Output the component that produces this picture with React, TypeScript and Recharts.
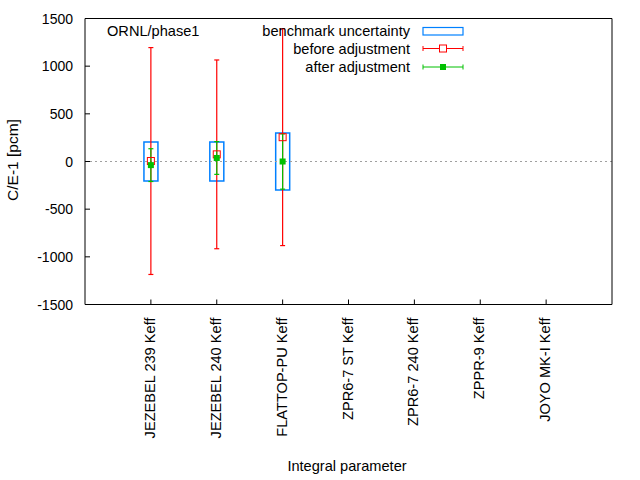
import {
  Bar,
  ComposedChart,
  ErrorBar,
  ReferenceLine,
  Scatter,
  XAxis,
  YAxis,
} from 'recharts';

const categories = [
  'JEZEBEL 239 Keff',
  'JEZEBEL 240 Keff',
  'FLATTOP-PU Keff',
  'ZPR6-7 ST Keff',
  'ZPR6-7 240 Keff',
  'ZPPR-9 Keff',
  'JOYO MK-I Keff',
];
const benchmarkUnc: (number | null)[] = [205, 205, 300, null, null, null, null];
const before: (number | null)[] = [5, 75, 255, null, null, null, null];
const beforeErr: (number | null)[] = [1190, 990, 1137, null, null, null, null];
const after: (number | null)[] = [-38, 37, 0, null, null, null, null];
const afterErr: (number | null)[] = [172, 172, 290, null, null, null, null];
const yTicks = [-1500, -1000, -500, 0, 500, 1000, 1500];

const RED = '#ff0000';
const GREEN = '#00c000';
const BLUE = '#0080ff';
const FONT = '"Liberation Sans", Arial, sans-serif';
const FS = 14.6;

const rows = categories.map((name, i) => ({
  x: i + 1,
  name,
  bench: benchmarkUnc[i] == null ? null : [-benchmarkUnc[i]!, benchmarkUnc[i]!],
  before: before[i],
  beforeErr: beforeErr[i],
  after: after[i],
  afterErr: afterErr[i],
}));
const beforeRows = rows.filter((r) => r.before != null);
const afterRows = rows.filter((r) => r.after != null);

const LeftTick = (props: any) => {
  const { x, y, payload } = props;
  return (
    <g>
      <line x1={x} y1={y} x2={x + 5} y2={y} stroke="#000" />
      <text x={x - 12} y={y + 5} textAnchor="end" fontSize={14} fontFamily={FONT} fill="#000">
        {payload.value}
      </text>
    </g>
  );
};

const RightTick = (props: any) => {
  const { x, y } = props;
  return <line x1={x} y1={y} x2={x - 5} y2={y} stroke="#000" />;
};

const BottomTick = (props: any) => {
  const { x, y, payload } = props;
  const label = categories[payload.value - 1] ?? '';
  return (
    <g>
      <line x1={x} y1={y} x2={x} y2={y - 5} stroke="#000" />
      <text
        x={x + 4}
        y={y + 13}
        transform={`rotate(-90 ${x + 4} ${y + 13})`}
        textAnchor="end"
        fontSize={FS}
        fontFamily={FONT}
        fill="#000"
      >
        {label}
      </text>
    </g>
  );
};

const OpenSquare = (props: any) => {
  const { cx, cy } = props;
  return <rect x={cx - 3.5} y={cy - 3.5} width={7} height={7} fill="none" stroke={RED} />;
};

const FilledSquare = (props: any) => {
  const { cx, cy } = props;
  return <rect x={cx - 3} y={cy - 3} width={6} height={6} fill={GREEN} />;
};

export default function App() {
  return (
    <div style={{ position: 'absolute', left: 0, top: 0, width: 640, height: 480, background: '#fff' }}>
      <ComposedChart
        width={640}
        height={480}
        data={rows}
        margin={{ top: 0, right: 0, bottom: 0, left: 0 }}
      >
        <XAxis
          xAxisId="top"
          orientation="top"
          type="number"
          dataKey="x"
          domain={[0, 8]}
          height={18.5}
          tick={false}
          tickLine={false}
          stroke="#000"
        />
        <XAxis
          type="number"
          dataKey="x"
          domain={[0, 8]}
          ticks={[1, 2, 3, 4, 5, 6, 7]}
          height={175.5}
          tickSize={0}
          tickMargin={0}
          tickLine={false}
          tick={<BottomTick />}
          interval={0}
          stroke="#000"
        />
        <YAxis
          type="number"
          domain={[-1500, 1500]}
          ticks={yTicks}
          width={85}
          tickSize={0}
          tickMargin={0}
          tickLine={false}
          tick={<LeftTick />}
          interval={0}
          stroke="#000"
        />
        <YAxis
          yAxisId="right"
          orientation="right"
          type="number"
          domain={[-1500, 1500]}
          ticks={yTicks}
          width={28}
          tickSize={0}
          tickMargin={0}
          tickLine={false}
          tick={<RightTick />}
          interval={0}
          stroke="#000"
        />
        <ReferenceLine y={0} stroke="#a0a0a0" strokeDasharray="2 3" />
        <Bar
          dataKey="bench"
          barSize={14}
          fill="none"
          stroke={BLUE}
          strokeWidth={1.5}
          isAnimationActive={false}
        />
        <Scatter data={beforeRows} dataKey="before" shape={<OpenSquare />} isAnimationActive={false}>
          <ErrorBar dataKey="beforeErr" direction="y" width={2.5} stroke={RED} strokeWidth={1.2} />
        </Scatter>
        <Scatter data={afterRows} dataKey="after" shape={<FilledSquare />} isAnimationActive={false}>
          <ErrorBar dataKey="afterErr" direction="y" width={2.5} stroke={GREEN} strokeWidth={1.2} />
        </Scatter>
      </ComposedChart>
      <svg
        width={640}
        height={480}
        style={{ position: 'absolute', left: 0, top: 0, pointerEvents: 'none' }}
        fontFamily={FONT}
        fontSize={FS}
      >
        <text x={107} y={36}>ORNL/phase1</text>
        <text x={410} y={36} textAnchor="end">benchmark uncertainty</text>
        <rect x={423} y={27.5} width={40} height={7.5} fill="none" stroke={BLUE} strokeWidth={1.2} />
        <text x={410} y={54} textAnchor="end">before adjustment</text>
        <line x1={423} y1={48.5} x2={463} y2={48.5} stroke={RED} />
        <line x1={423} y1={46} x2={423} y2={51} stroke={RED} />
        <line x1={463} y1={46} x2={463} y2={51} stroke={RED} />
        <rect x={439.5} y={45} width={7} height={7} fill="#fff" stroke={RED} />
        <text x={410} y={72} textAnchor="end">after adjustment</text>
        <line x1={423} y1={67} x2={463} y2={67} stroke={GREEN} />
        <line x1={423} y1={64.5} x2={423} y2={69.5} stroke={GREEN} />
        <line x1={463} y1={64.5} x2={463} y2={69.5} stroke={GREEN} />
        <rect x={440} y={64} width={6} height={6} fill={GREEN} />
        <text x={17.5} y={160} transform="rotate(-90 17.5 160)" textAnchor="middle" fontSize={15.5}>
          C/E-1 [pcm]
        </text>
        <text x={347} y={471} textAnchor="middle">Integral parameter</text>
      </svg>
    </div>
  );
}
